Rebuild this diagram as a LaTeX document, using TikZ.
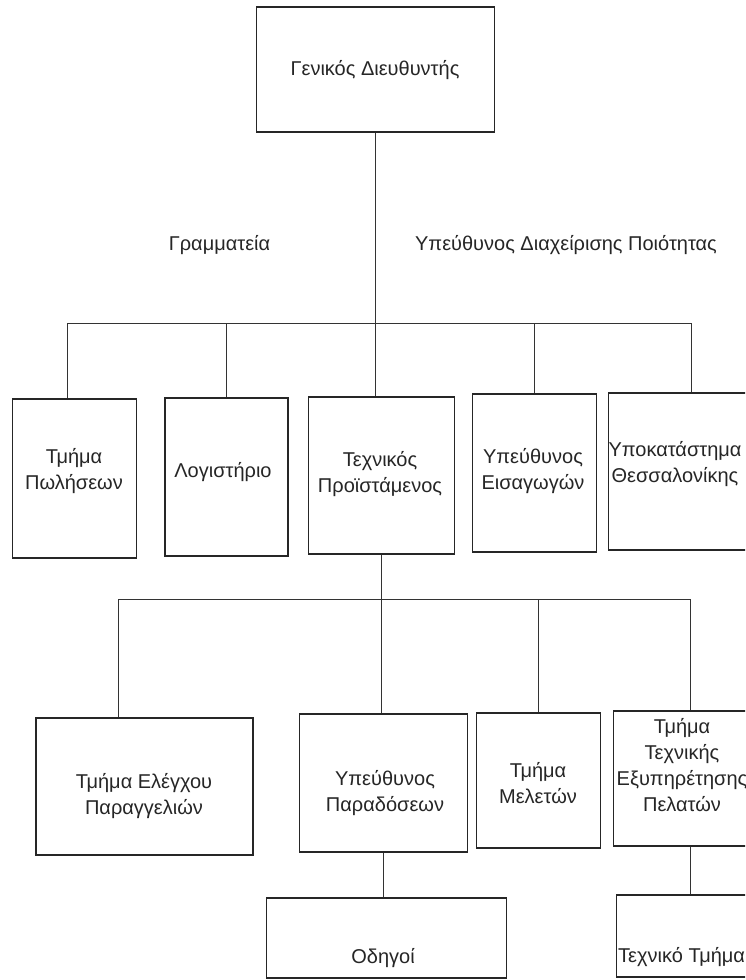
\documentclass[tikz,border=0pt]{standalone}
\usepackage{fontspec}
\setmainfont{Liberation Sans}
\usetikzlibrary{calc}

\tikzset{
  box/.style={draw=black!85, line width=1.4pt, rectangle, inner sep=0pt},
  link/.style={draw=black!80, line width=1.4pt},
  txt/.style={inner sep=0pt, align=center, text=black!85,
              font=\fontsize{20}{26}\selectfont}
}

\begin{document}
\begin{tikzpicture}[x=1pt, y=-1pt]
  \useasboundingbox (0,0) rectangle (745,980);
  \clip (0,0) rectangle (745,980);
  \fill[white] (0,0) rectangle (745,980);

  % top of the hierarchy
  \node[box, minimum width=238, minimum height=125] (gd) at (375.5,69.5) {};
  \node[txt] (gdT) at (375,69.6) {Γενικός Διευθυντής};

  % staff positions beside the main line
  \node[txt] (gram) at (219.5,244.6) {Γραμματεία};
  \node[txt] (qual) at (566,244.6) {Υπεύθυνος Διαχείρισης Ποιότητας};

  % second level
  \node[box, minimum width=124, minimum height=159] (pol) at (74.5,478.5) {};
  \node[txt] (polT) at (74,471.5) {Τμήμα\\Πωλήσεων};
  \node[box, minimum width=123, minimum height=158] (log) at (226.5,477) {};
  \node[txt] (logT) at (223,472) {Λογιστήριο};
  \node[box, minimum width=146, minimum height=157] (tex) at (381.5,475.5) {};
  \node[txt] (texT) at (380,474) {Τεχνικός\\Προϊστάμενος};
  \node[box, minimum width=124, minimum height=158] (eis) at (534.5,473) {};
  \node[txt] (eisT) at (533,471) {Υπεύθυνος\\Εισαγωγών};
  \node[box, minimum width=166, minimum height=157] (ypo) at (691.5,471.5) {};
  \node[txt] (ypoT) at (675,464.5) {Υποκατάστημα\\Θεσσαλονίκης};

  \coordinate (hub1) at (377,323.5);
  \draw[link] (gd.south) -- (gd.south |- tex.north);
  \draw[link] ([xshift=-7pt]pol.north) |- (ypo.north |- hub1) -- (ypo.north);
  \draw[link] (log.north) -- (log.north |- hub1);
  \draw[link] (eis.north) -- (eis.north |- hub1);

  % third level
  \node[box, minimum width=217, minimum height=137] (ele) at (144.5,786.5) {};
  \node[txt] (eleT) at (144,796) {Τμήμα Ελέγχου\\Παραγγελιών};
  \node[box, minimum width=168, minimum height=138] (par) at (383.5,783) {};
  \node[txt] (parT) at (385,793) {Υπεύθυνος\\Παραδόσεων};
  \node[box, minimum width=124, minimum height=135] (mel) at (538.5,780.5) {};
  \node[txt] (melT) at (538,782.8) {Τμήμα\\Μελετών};
  \node[box, minimum width=154, minimum height=135] (tts) at (690.5,778.5) {};
  \node[txt] (ttsT) at (682,765.4) {Τμήμα\\Τεχνικής\\Εξυπηρέτησης\\Πελατών};

  \coordinate (hub2) at (383,599.5);
  \draw[link] (tex.south) -- (tex.south |- par.north);
  \draw[link] ([xshift=-26pt]ele.north) |- (tts.north |- hub2) -- (tts.north);
  \draw[link] (mel.north) -- (mel.north |- hub2);

  % fourth level
  \node[box, minimum width=240, minimum height=80] (odh) at (386.5,938) {};
  \node[txt] (odhT) at (383,957.9) {Οδηγοί};
  \node[box, minimum width=154, minimum height=82] (tt) at (693.5,936) {};
  \node[txt, anchor=west] (ttT) at (618,956.6) {Τεχνικό Τμήμα};

  \draw[link] (par.south) -- (par.south |- odh.north);
  \draw[link] (tts.south) -- (tts.south |- tt.north);
\end{tikzpicture}
\end{document}
